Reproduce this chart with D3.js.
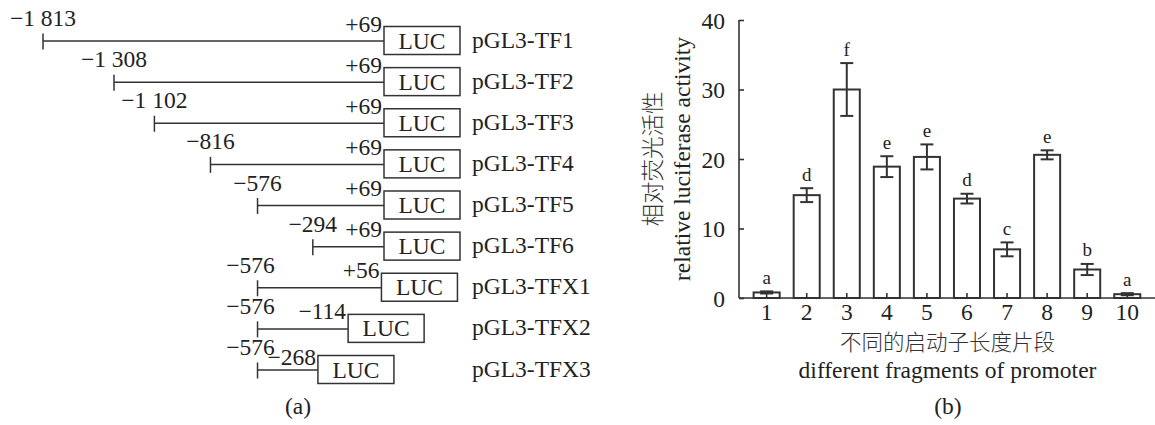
<!DOCTYPE html>
<html>
<head>
<meta charset="utf-8">
<script src="https://cdn.jsdelivr.net/npm/d3@7"></script>
<style>
  html, body { margin: 0; padding: 0; background: #fff; }
  svg { display: block; }
</style>
</head>
<body>
<svg id="chart" width="1155" height="425"></svg>
<script>
// ---------- Panel (a): promoter constructs ----------
const constructs = ["pGL3-TF1", "pGL3-TF2", "pGL3-TF3", "pGL3-TF4", "pGL3-TF5", "pGL3-TF6", "pGL3-TFX1", "pGL3-TFX2", "pGL3-TFX3"];
const startPos = [-1813, -1308, -1102, -816, -576, -294, -576, -576, -576];
const endPos = [69, 69, 69, 69, 69, 69, 56, -114, -268];
const startLabels = ["\u22121 813", "\u22121 308", "\u22121 102", "\u2212816", "\u2212576", "\u2212294", "\u2212576", "\u2212576", "\u2212576"];
const endLabels = ["+69", "+69", "+69", "+69", "+69", "+69", "+56", "\u2212114", "\u2212268"];
const reporterLabel = "LUC";

// ---------- Panel (b): relative luciferase activity ----------
const fragments = ["1", "2", "3", "4", "5", "6", "7", "8", "9", "10"];
const activity = [0.8, 14.8, 30.0, 18.9, 20.3, 14.3, 7.0, 20.6, 4.1, 0.55];
const errors = [0.15, 1.0, 3.8, 1.5, 1.8, 0.7, 1.0, 0.65, 0.8, 0.15];
const sigLetters = ["a", "d", "f", "e", "e", "d", "c", "e", "b", "a"];
const yTicks = [0, 10, 20, 30, 40];
const yLabelCN = "相对荧光活性";
const yLabelEN = "relative luciferase activity";
const xLabelCN = "不同的启动子长度片段";
const xLabelEN = "different fragments of promoter";
const panelLabels = ["(a)", "(b)"];

const svg = d3.select("#chart");
const INK = "#333";
const TXT = "#222";
const FS = 23.5;
const SERIF = '"Liberation Serif", "DejaVu Serif", serif';
const CJK = '"Noto Sans CJK SC", "Noto Sans CJK JP", sans-serif';

function serifText(sel) {
  return sel.append("text").attr("font-family", SERIF).attr("fill", TXT).attr("font-size", FS);
}

// ===== Panel (a) =====
const bp = d3.scaleLinear().domain([-1813, -1308, 69]).range([43, 114, 384]);
const rowY = d3.scalePoint().domain(constructs).range([41, 370]);
const boxW = 76, boxH = 28;
const gA = svg.append("g");

constructs.forEach((name, i) => {
  const y = rowY(name);
  const x0 = bp(startPos[i]);
  const x1 = bp(endPos[i]);
  const isX = name.indexOf("TFX") >= 0;
  const g = gA.append("g");
  g.append("line").attr("x1", x0).attr("x2", x1).attr("y1", y).attr("y2", y)
    .attr("stroke", INK).attr("stroke-width", 1.5);
  g.append("line").attr("x1", x0).attr("x2", x0).attr("y1", y - 7.5).attr("y2", y + 8.5)
    .attr("stroke", INK).attr("stroke-width", 1.5);
  g.append("rect").attr("x", x1).attr("y", y - 14.5).attr("width", boxW).attr("height", boxH)
    .attr("fill", "#fff").attr("stroke", INK).attr("stroke-width", 1.5);
  serifText(g).attr("x", x1 + boxW / 2).attr("y", y + 7.5).attr("text-anchor", "middle").text(reporterLabel);
  serifText(g).attr("x", isX ? x0 - 7 : x0).attr("y", y - 15).attr("text-anchor", "middle").text(startLabels[i]);
  serifText(g).attr("x", x1 - 2).attr("y", y - (i === 8 ? 5 : 9.5)).attr("text-anchor", "end").text(endLabels[i]);
  serifText(g).attr("x", 472).attr("y", y + 6.5).text(name);
});

serifText(svg).attr("x", 298).attr("y", 414).attr("text-anchor", "middle").text(panelLabels[0]);

// ===== Panel (b) =====
const x = d3.scaleBand().domain(fragments).range([746.6, 1147.3]).paddingInner(0.35).paddingOuter(0.175);
const y = d3.scaleLinear().domain([0, 40]).range([298, 20]);
const axisX0 = 739;
const gB = svg.append("g");

// bars
gB.selectAll("rect.bar").data(fragments).join("rect").attr("class", "bar")
  .attr("x", d => x(d)).attr("width", x.bandwidth())
  .attr("y", (d, i) => y(activity[i])).attr("height", (d, i) => y(0) - y(activity[i]))
  .attr("fill", "#fff").attr("stroke", INK).attr("stroke-width", 2);

// error bars and significance letters
const cap = 13;
fragments.forEach((d, i) => {
  const cx = x(d) + x.bandwidth() / 2;
  const top = y(activity[i] + errors[i]);
  const bot = y(activity[i] - errors[i]);
  const g = gB.append("g").attr("stroke", INK).attr("stroke-width", 2);
  g.append("line").attr("x1", cx).attr("x2", cx).attr("y1", top).attr("y2", bot);
  g.append("line").attr("x1", cx - cap / 2).attr("x2", cx + cap / 2).attr("y1", top).attr("y2", top);
  g.append("line").attr("x1", cx - cap / 2).attr("x2", cx + cap / 2).attr("y1", bot).attr("y2", bot);
  serifText(gB).attr("x", cx).attr("y", top - 7.5).attr("text-anchor", "middle")
    .attr("font-size", 19).text(sigLetters[i]);
});

// y axis
const yAxis = d3.axisRight(y).tickValues(yTicks).tickSize(5).tickFormat(d3.format("d"));
const yg = gB.append("g").attr("transform", `translate(${axisX0},0)`).call(yAxis);
yg.select(".domain").attr("d", `M0,${y(40)}V${y(0)}`).attr("stroke", INK).attr("stroke-width", 1.6);
yg.selectAll(".tick line").attr("stroke", INK).attr("stroke-width", 1.6);
yg.selectAll(".tick text").attr("x", -14).attr("text-anchor", "end").attr("dy", "0.34em")
  .attr("font-size", FS).attr("font-family", SERIF).attr("fill", TXT);

// x axis
const xAxis = d3.axisBottom(x).tickSize(0).tickPadding(0);
const xg = gB.append("g").attr("transform", `translate(0,${y(0)})`).call(xAxis);
xg.select(".domain").attr("d", `M${axisX0},0H1155`).attr("stroke", INK).attr("stroke-width", 1.6);
xg.selectAll(".tick").append("line").attr("y1", 0).attr("y2", -5).attr("stroke", INK).attr("stroke-width", 1.6);
xg.selectAll(".tick text").attr("y", 22).attr("dy", 0)
  .attr("font-size", FS).attr("font-family", SERIF).attr("fill", TXT);

// axis titles
const plotMidY = (y(0) + y(40)) / 2;
svg.append("text").attr("transform", `translate(661,${plotMidY}) rotate(-90)`)
  .attr("text-anchor", "middle").attr("font-size", 22.5).attr("font-family", CJK)
  .attr("font-weight", 300).attr("fill", "#333").text(yLabelCN);
serifText(svg).attr("transform", `translate(690,${plotMidY}) rotate(-90)`)
  .attr("text-anchor", "middle").text(yLabelEN);

const plotMidX = 947.5;
svg.append("text").attr("x", plotMidX).attr("y", 350).attr("text-anchor", "middle")
  .attr("font-size", 21.5).attr("font-family", CJK).attr("font-weight", 300).attr("fill", "#333").text(xLabelCN);
serifText(svg).attr("x", plotMidX).attr("y", 377.5).attr("text-anchor", "middle").text(xLabelEN);
serifText(svg).attr("x", 948).attr("y", 414).attr("text-anchor", "middle").text(panelLabels[1]);
</script>
</body>
</html>
